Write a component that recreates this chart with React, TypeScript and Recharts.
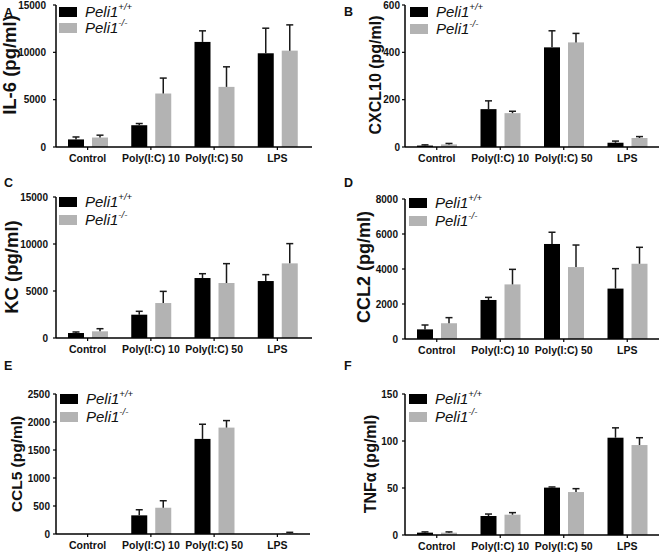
import React from 'react';
import { BarChart, Bar, XAxis, YAxis, Legend } from 'recharts';

const categories = ['Control', 'Poly(I:C) 10', 'Poly(I:C) 50', 'LPS'];
const seriesLabels = [
  { base: 'Peli1', sup: '+/+' },
  { base: 'Peli1', sup: '-/-' },
];

// A: IL-6
const il6WT = [800, 2300, 11100, 9900];
const il6WTErr = [260, 180, 1170, 2650];
const il6KO = [1000, 5650, 6350, 10180];
const il6KOErr = [250, 1630, 2120, 2720];
const il6Ticks = [0, 5000, 10000, 15000];

// B: CXCL10
const cxcl10WT = [6, 160, 421, 18];
const cxcl10WTErr = [3, 35, 70, 7];
const cxcl10KO = [11, 143, 442, 38];
const cxcl10KOErr = [4, 8, 38, 6];
const cxcl10Ticks = [0, 200, 400, 600];

// C: KC
const kcWT = [530, 2480, 6380, 6060];
const kcWTErr = [110, 360, 460, 680];
const kcKO = [710, 3720, 5850, 7940];
const kcKOErr = [280, 1240, 2060, 2100];
const kcTicks = [0, 5000, 10000, 15000];

// D: CCL2
const ccl2WT = [550, 2230, 5430, 2880];
const ccl2WTErr = [250, 150, 670, 1140];
const ccl2KO = [900, 3120, 4110, 4300];
const ccl2KOErr = [320, 860, 1260, 940];
const ccl2Ticks = [0, 2000, 4000, 6000, 8000];

// E: CCL5
const ccl5WT = [0, 333, 1698, 0];
const ccl5WTErr = [0, 100, 262, 0];
const ccl5KO = [0, 469, 1900, 12];
const ccl5KOErr = [0, 125, 125, 18];
const ccl5Ticks = [0, 500, 1000, 1500, 2000, 2500];

// F: TNFa
const tnfWT = [2.5, 20.2, 50.4, 103.5];
const tnfWTErr = [0.8, 2.1, 0.7, 10.5];
const tnfKO = [2.5, 21.6, 45.7, 95.7];
const tnfKOErr = [0.8, 2.2, 3.6, 7.8];
const tnfTicks = [0, 50, 100, 150];

const FONT = 'Arial, "Liberation Sans", Helvetica, sans-serif';
const WT_COLOR = '#000000';
const KO_COLOR = '#b3b3b3';
const ERR_COLOR = '#1a1a1a';

type Panel = {
  letter: string;
  yLabel: string;
  yLabelSize: number;
  yLabelX: number;
  yLabelY: number;
  px: number;
  py: number;
  axisX: number;
  top: number;
  zero: number;
  axisEnd: number;
  padRight: number;
  tickGap: number;
  ticks: number[];
  wt: number[];
  wtErr: number[];
  ko: number[];
  koErr: number[];
  legendX: number;
  legendY: number;
  legendRow: number;
  letterX: number;
  letterBase: number;
};

const panels: Panel[] = [
  {
    letter: 'A', yLabel: 'IL-6 (pg/ml)', yLabelSize: 18.5, yLabelX: 16, yLabelY: 65,
    px: 0, py: 0, axisX: 56, top: 5, zero: 147, axisEnd: 312, padRight: 3, tickGap: 10,
    ticks: il6Ticks, wt: il6WT, wtErr: il6WTErr, ko: il6KO, koErr: il6KOErr,
    legendX: 59, legendY: 7, legendRow: 16, letterX: 4, letterBase: 17,
  },
  {
    letter: 'B', yLabel: 'CXCL10 (pg/ml)', yLabelSize: 16, yLabelX: 381, yLabelY: 75,
    px: 331, py: 0, axisX: 405, top: 5, zero: 147, axisEnd: 659, padRight: 0, tickGap: 5,
    ticks: cxcl10Ticks, wt: cxcl10WT, wtErr: cxcl10WTErr, ko: cxcl10KO, koErr: cxcl10KOErr,
    legendX: 410, legendY: 7, legendRow: 17, letterX: 344, letterBase: 16,
  },
  {
    letter: 'C', yLabel: 'KC (pg/ml)', yLabelSize: 18.5, yLabelX: 18, yLabelY: 267,
    px: 0, py: 185, axisX: 56, top: 197, zero: 338, axisEnd: 312, padRight: 3, tickGap: 8,
    ticks: kcTicks, wt: kcWT, wtErr: kcWTErr, ko: kcKO, koErr: kcKOErr,
    legendX: 59, legendY: 197, legendRow: 18, letterX: 4, letterBase: 187,
  },
  {
    letter: 'D', yLabel: 'CCL2 (pg/ml)', yLabelSize: 18, yLabelX: 370, yLabelY: 267,
    px: 331, py: 185, axisX: 405, top: 199, zero: 339, axisEnd: 659, padRight: 0, tickGap: 7,
    ticks: ccl2Ticks, wt: ccl2WT, wtErr: ccl2WTErr, ko: ccl2KO, koErr: ccl2KOErr,
    legendX: 409, legendY: 198, legendRow: 18, letterX: 344, letterBase: 187,
  },
  {
    letter: 'E', yLabel: 'CCL5 (pg/ml)', yLabelSize: 15.5, yLabelX: 22, yLabelY: 464,
    px: 0, py: 370, axisX: 56, top: 394, zero: 534, axisEnd: 310, padRight: 1, tickGap: 6,
    ticks: ccl5Ticks, wt: ccl5WT, wtErr: ccl5WTErr, ko: ccl5KO, koErr: ccl5KOErr,
    legendX: 60, legendY: 394, legendRow: 18, letterX: 4, letterBase: 370,
  },
  {
    letter: 'F', yLabel: 'TNF\u03B1 (pg/ml)', yLabelSize: 16, yLabelX: 376, yLabelY: 464,
    px: 331, py: 370, axisX: 405, top: 394, zero: 535, axisEnd: 659, padRight: 0, tickGap: 7,
    ticks: tnfTicks, wt: tnfWT, wtErr: tnfWTErr, ko: tnfKO, koErr: tnfKOErr,
    legendX: 409, legendY: 394, legendRow: 18, letterX: 344, letterBase: 370,
  },
];

const makeShape = (errKey: string) => (props: any) => {
  const { x, y, width, height, payload, fill } = props;
  const raw = props.value;
  const v = Array.isArray(raw) ? raw[1] - raw[0] : raw;
  const err = payload ? payload[errKey] : 0;
  const cx = x + width / 2;
  const items: React.ReactNode[] = [];
  if (height > 0) {
    items.push(<rect key="r" x={x} y={y} width={width} height={height} fill={fill} />);
  }
  if (v > 0 && err > 0 && height > 0) {
    const topY = y - (err * height) / v;
    items.push(
      <line key="v" x1={cx} x2={cx} y1={y} y2={topY} stroke={ERR_COLOR} strokeWidth={1.5} />,
      <line key="c" x1={cx - 3.5} x2={cx + 3.5} y1={topY} y2={topY} stroke={ERR_COLOR} strokeWidth={1.5} />
    );
  }
  return <g>{items}</g>;
};

const wtShape = makeShape('wtErr');
const koShape = makeShape('koErr');

const LegendBox = ({ rowH }: { rowH: number }) => (
  <div style={{ fontFamily: FONT }}>
    {seriesLabels.map((s, i) => (
      <div key={i} style={{ display: 'flex', alignItems: 'center', height: rowH }}>
        <div style={{ width: 18, height: 10, background: i === 0 ? WT_COLOR : KO_COLOR }} />
        <span
          style={{
            marginLeft: 8,
            fontStyle: 'italic',
            fontSize: 15,
            lineHeight: '15px',
            color: '#111',
            whiteSpace: 'nowrap',
          }}
        >
          {s.base}
          <span style={{ fontSize: 9.5, position: 'relative', top: -7 }}>{s.sup}</span>
        </span>
      </div>
    ))}
  </div>
);

const TICK_SIZE = 3;

const PanelChart = ({ p }: { p: Panel }) => {
  const data = categories.map((c, i) => ({
    category: c,
    wt: p.wt[i],
    wtErr: p.wtErr[i],
    ko: p.ko[i],
    koErr: p.koErr[i],
  }));
  const W = 331;
  const H = 185;
  const yMax = p.ticks[p.ticks.length - 1];
  const labelX = p.yLabelX - p.px;
  const labelY = p.yLabelY - p.py;
  return (
    <div style={{ position: 'absolute', left: p.px, top: p.py, width: W, height: H }}>
      <BarChart
        width={W}
        height={H}
        data={data}
        margin={{ top: p.top - p.py, right: p.px + W - p.axisEnd, bottom: 0, left: 0 }}
        barGap={8}
      >
        <Bar dataKey="wt" fill={WT_COLOR} barSize={16} shape={wtShape} isAnimationActive={false} />
        <Bar dataKey="ko" fill={KO_COLOR} barSize={16} shape={koShape} isAnimationActive={false} />
        <XAxis
          dataKey="category"
          interval={0}
          height={p.py + H - p.zero}
          padding={{ left: 0, right: p.padRight }}
          axisLine={{ stroke: '#000', strokeWidth: 1.5 }}
          tickLine={{ stroke: '#000', strokeWidth: 1.2 }}
          tickSize={3}
          tickMargin={5}
          tick={{ fontSize: 10.5, fontWeight: 'bold', fill: '#111', fontFamily: FONT }}
        />
        <YAxis
          width={p.axisX - p.px}
          domain={[0, yMax]}
          ticks={p.ticks}
          interval={0}
          allowDataOverflow
          axisLine={{ stroke: '#000', strokeWidth: 1.5 }}
          tickLine={{ stroke: '#000', strokeWidth: 1.2 }}
          tickSize={TICK_SIZE}
          tickMargin={p.tickGap - TICK_SIZE}
          tick={{ fontSize: 10, fontWeight: 'bold', fill: '#111', fontFamily: FONT }}
          label={{
            content: () => (
              <text
                x={0}
                y={0}
                transform={`translate(${labelX},${labelY}) rotate(-90)`}
                textAnchor="middle"
                fontFamily={FONT}
                fontWeight="bold"
                fontSize={p.yLabelSize}
                fill="#111"
              >
                {p.yLabel}
              </text>
            ),
          }}
        />
        <Legend
          layout="vertical"
          align="center"
          verticalAlign="middle"
          wrapperStyle={{
            position: 'absolute',
            left: p.legendX - p.px,
            top: p.legendY - p.py - (p.legendRow - 10) / 2,
            width: 'auto',
            height: 'auto',
          }}
          content={() => <LegendBox rowH={p.legendRow} />}
        />
      </BarChart>
      <div
        style={{
          position: 'absolute',
          left: p.letterX - p.px,
          top: p.letterBase - p.py - 10.5,
          fontFamily: FONT,
          fontWeight: 'bold',
          fontSize: 12.5,
          lineHeight: '13px',
          color: '#111',
        }}
      >
        {p.letter}
      </div>
    </div>
  );
};

export default function App() {
  return (
    <div
      style={{
        position: 'absolute',
        left: 0,
        top: 0,
        width: 662,
        height: 555,
        background: '#fff',
        overflow: 'hidden',
      }}
    >
      {panels.map((p) => (
        <PanelChart key={p.letter} p={p} />
      ))}
    </div>
  );
}
